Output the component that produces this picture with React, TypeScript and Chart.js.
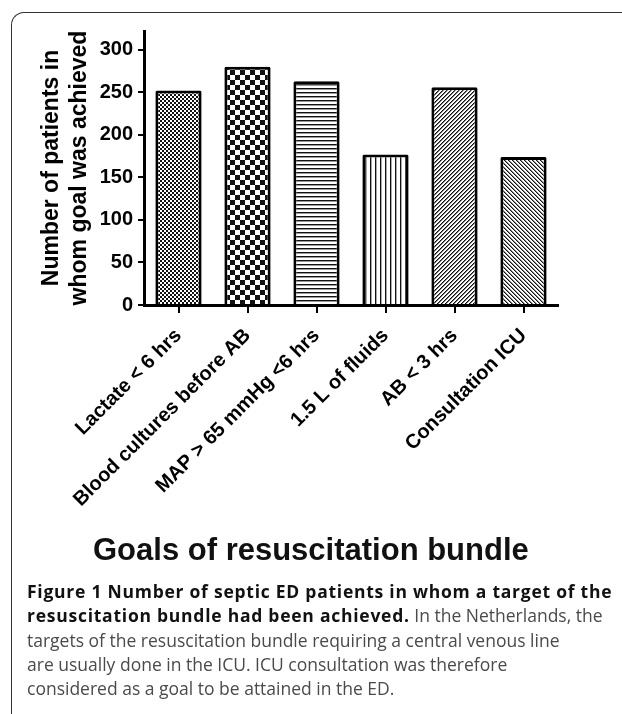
import React, { useEffect, useRef } from "react";
import { Chart, registerables } from "chart.js";

Chart.register(...registerables);

const categories = [
  "Lactate < 6 hrs",
  "Blood cultures before AB",
  "MAP > 65 mmHg <6 hrs",
  "1.5 L of fluids",
  "AB < 3 hrs",
  "Consultation ICU",
];
const patientCounts = [252, 280, 263, 177, 256, 174];
const yTickValues = [0, 50, 100, 150, 200, 250, 300];
const yAxisMax = 322;
const yAxisTitle = ["Number of patients in", "whom goal was achieved"];
const xAxisTitle = "Goals of resuscitation bundle";
const captionLines: { bold: string; normal: string }[] = [
  { bold: "Figure 1 Number of septic ED patients in whom a target of the", normal: "" },
  { bold: "resuscitation bundle had been achieved.", normal: " In the Netherlands, the" },
  { bold: "", normal: "targets of the resuscitation bundle requiring a central venous line" },
  { bold: "", normal: "are usually done in the ICU. ICU consultation was therefore" },
  { bold: "", normal: "considered as a goal to be attained in the ED." },
];

type Painter = (x: number, y: number) => string | null;

function makePattern(w: number, h: number, painter: Painter): CanvasPattern | string {
  const c = document.createElement("canvas");
  c.width = w;
  c.height = h;
  const ctx = c.getContext("2d");
  if (!ctx) return "#888";
  ctx.fillStyle = "#fff";
  ctx.fillRect(0, 0, w, h);
  for (let y = 0; y < h; y++) {
    for (let x = 0; x < w; x++) {
      const col = painter(x, y);
      if (col) {
        ctx.fillStyle = col;
        ctx.fillRect(x, y, 1, 1);
      }
    }
  }
  return ctx.createPattern(c, "repeat") || "#888";
}

function buildPatterns() {
  return [
    makePattern(4, 4, (x, y) => (((x >> 1) + (y >> 1)) % 2 === 0 ? "#111" : null)),
    makePattern(10, 10, (x, y) => ((Math.floor(x / 5) + Math.floor(y / 5)) % 2 === 0 ? "#111" : null)),
    makePattern(1, 4, (x, y) => (y === 0 ? "#111" : y === 1 ? "#999" : null)),
    makePattern(5, 1, (x) => (x === 0 ? "#111" : x === 1 ? "#aaa" : null)),
    makePattern(4, 4, (x, y) => {
      const m = (x + y) % 4;
      return m === 0 ? "#111" : m === 1 ? "#777" : null;
    }),
    makePattern(4, 4, (x, y) => {
      const m = (((x - y) % 4) + 4) % 4;
      return m === 0 ? "#111" : m === 1 ? "#888" : null;
    }),
  ];
}

const axisFont = "'Liberation Sans', Arial, sans-serif";

export default function App() {
  const canvasRef = useRef<HTMLCanvasElement | null>(null);

  useEffect(() => {
    const canvas = canvasRef.current;
    if (!canvas) return;
    const patterns = buildPatterns();
    const chart = new Chart(canvas, {
      type: "bar",
      data: {
        labels: categories,
        datasets: [
          {
            data: patientCounts,
            backgroundColor: patterns as any,
            borderColor: "#000",
            borderWidth: 3,
            borderSkipped: "bottom",
            borderRadius: 1.5,
            barPercentage: 0.67,
            categoryPercentage: 1,
          },
        ],
      },
      options: {
        responsive: false,
        animation: false,
        devicePixelRatio: 1,
        layout: { padding: { left: 0, top: 31, right: 64, bottom: 149 } },
        plugins: {
          legend: { display: false },
          tooltip: { enabled: false },
          title: { display: false },
        },
        scales: {
          x: {
            type: "category",
            offset: true,
            afterFit: (s: any) => {
              s.height = 260;
            },
            grid: {
              display: true,
              offset: false,
              drawOnChartArea: false,
              drawTicks: true,
              tickLength: 8,
              lineWidth: 2,
              color: "#000",
            },
            border: { display: true, width: 3, color: "#000" },
            ticks: {
              autoSkip: false,
              maxRotation: 45,
              minRotation: 45,
              padding: 11,
              color: "#000",
              font: { family: axisFont, size: 20, weight: "bold" },
            },
          },
          y: {
            type: "linear",
            min: 0,
            max: yAxisMax,
            afterFit: (s: any) => {
              s.width = 144;
            },
            afterBuildTicks: (s: any) => {
              s.ticks = yTickValues.map((v) => ({ value: v }));
            },
            grid: {
              display: true,
              drawOnChartArea: false,
              drawTicks: true,
              tickLength: 6,
              lineWidth: 2,
              color: "#000",
            },
            border: { display: true, width: 3, color: "#000" },
            ticks: {
              padding: 5,
              color: "#000",
              font: { family: axisFont, size: 20, weight: "bold" },
            },
            title: {
              display: true,
              text: yAxisTitle,
              color: "#000",
              padding: { top: 38, bottom: 0 },
              font: { family: axisFont, size: 23, weight: "bold", lineHeight: 28 / 23 },
            },
          },
        },
      },
    });
    return () => chart.destroy();
  }, []);

  return (
    <div
      style={{
        position: "absolute",
        left: 0,
        top: 0,
        width: 622,
        height: 714,
        overflow: "hidden",
        background: "#fff",
      }}
    >
      <div
        style={{
          position: "absolute",
          left: 10.5,
          top: 11.5,
          width: 800,
          height: 900,
          borderLeft: "1.5px solid #333",
          borderTop: "1.5px solid #333",
          borderTopLeftRadius: 13,
        }}
      />
      <canvas
        ref={canvasRef}
        width={622}
        height={714}
        style={{ position: "absolute", left: 0, top: 0, width: 622, height: 714 }}
      />
      <div
        style={{
          position: "absolute",
          left: 93,
          top: 534,
          fontFamily: axisFont,
          fontWeight: "bold",
          fontSize: 31,
          lineHeight: "31px",
          whiteSpace: "nowrap",
          color: "#111",
        }}
      >
        {xAxisTitle}
      </div>
      <div
        style={{
          position: "absolute",
          left: 27,
          top: 579,
          fontFamily: "'Open Sans', sans-serif",
          fontSize: 17.5,
          lineHeight: "24.25px",
          whiteSpace: "nowrap",
          color: "#4a4a4a",
        }}
      >
        {captionLines.map((ln, i) => (
          <div key={i}>
            {ln.bold ? (
              <span style={{ fontWeight: "bold", color: "#111", letterSpacing: "0.75px" }}>{ln.bold}</span>
            ) : null}
            {ln.normal}
          </div>
        ))}
      </div>
    </div>
  );
}
